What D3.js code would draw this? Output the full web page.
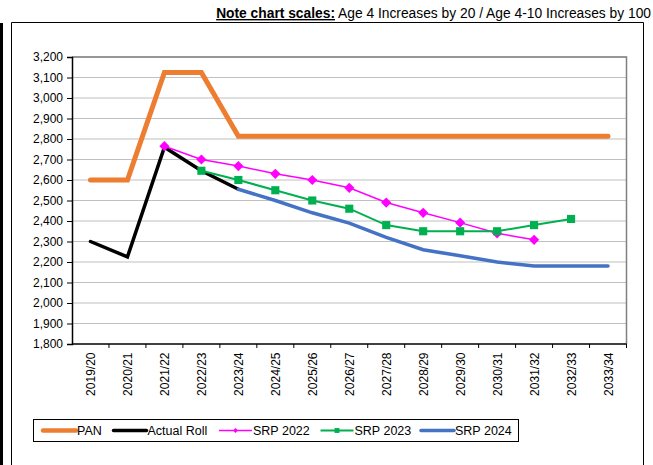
<!DOCTYPE html>
<html>
<head>
<meta charset="utf-8">
<script src="https://cdn.jsdelivr.net/npm/d3@7"></script>
<style>
  body { margin: 0; background: #fff; }
  svg { display: block; font-family: "Liberation Sans", Arial, sans-serif; }
</style>
</head>
<body>
<div id="target"></div>
<script>
let width = 653,
  height = 465;

let years = ["2019/20", "2020/21", "2021/22", "2022/23", "2023/24", "2024/25", "2025/26",
  "2026/27", "2027/28", "2028/29", "2029/30", "2030/31", "2031/32", "2032/33", "2033/34"];

// null = no value for that year
let pan = [2600, 2600, 3125, 3125, 2813, 2813, 2813, 2813, 2813, 2813, 2813, 2813, 2813, 2813, 2813];
let actualRoll = [2300, 2225, 2760, 2645, 2555, null, null, null, null, null, null, null, null, null, null];
let srp2022 = [null, null, 2765, 2700, 2668, 2630, 2600, 2562, 2490, 2440, 2392, 2340, 2308, null, null];
let srp2023 = [null, null, null, 2645, 2600, 2550, 2500, 2460, 2380, 2350, 2350, 2350, 2380, 2410, null];
let srp2024 = [null, null, null, null, 2555, 2500, 2440, 2390, 2320, 2260, 2230, 2200, 2180, 2180, 2180];

let yTicks = d3.range(1800, 3201, 100);

let series = [
  { name: "PAN", values: pan, color: "#ED7D31", width: 5, marker: null },
  { name: "Actual Roll", values: actualRoll, color: "#000000", width: 3.5, marker: null },
  { name: "SRP 2022", values: srp2022, color: "#FF00FF", width: 1.5, marker: "diamond" },
  { name: "SRP 2023", values: srp2023, color: "#00B050", width: 2, marker: "square" },
  { name: "SRP 2024", values: srp2024, color: "#4472C4", width: 3.5, marker: null }
];

let margin = { left: 72, right: 26.5, top: 57, bottom: 121 };

let x = d3.scaleBand()
  .domain(years)
  .range([margin.left, width - margin.right]);

let y = d3.scaleLinear()
  .domain([1800, 3200])
  .range([height - margin.bottom, margin.top]);

let svg = d3.select("#target").append("svg")
  .attr("width", width)
  .attr("height", height);

// outer frame
svg.append("rect").attr("x", 0).attr("y", 23).attr("width", 3).attr("height", height).attr("fill", "#000");
svg.append("path")
  .attr("d", "M11.5," + height + "V22.5H643.5V" + height)
  .attr("fill", "none").attr("stroke", "#000").attr("stroke-width", 1);

// title note
let note = svg.append("text")
  .attr("x", 651).attr("y", 18)
  .attr("text-anchor", "end")
  .style("font-size", "13.8px");
note.append("tspan").attr("font-weight", "bold").attr("text-decoration", "underline").text("Note chart scales:");
note.append("tspan").text(" Age 4 Increases by 20 / Age 4-10 Increases by 100");

// gridlines
svg.append("g").selectAll("line")
  .data(yTicks.slice(1))
  .enter().append("line")
  .attr("x1", margin.left).attr("x2", width - margin.right)
  .attr("y1", (d) => y(d)).attr("y2", (d) => y(d))
  .attr("stroke", "#c0c0c0").attr("stroke-width", 1.2);

// plot border top/right
svg.append("path")
  .attr("d", "M" + margin.left + "," + y(3200) + "H" + (width - margin.right) + "V" + y(1800))
  .attr("fill", "none").attr("stroke", "#808080").attr("stroke-width", 1.5);

// y axis
let yAxis = svg.append("g")
  .attr("transform", "translate(" + margin.left + ",0)")
  .call(d3.axisLeft(y).tickValues(yTicks).tickSize(5).tickPadding(4).tickFormat(d3.format(",")));
yAxis.select(".domain").attr("stroke", "#000").attr("stroke-width", 1.5);
yAxis.selectAll(".tick line").attr("stroke", "#000");
yAxis.selectAll("text").style("font-size", "12px").attr("fill", "#000").attr("font-family", "Liberation Sans, Arial, sans-serif");

// x axis
let bottom = y(1800);
svg.append("line")
  .attr("x1", margin.left).attr("x2", width - margin.right)
  .attr("y1", bottom).attr("y2", bottom)
  .attr("stroke", "#000").attr("stroke-width", 1.5);
svg.append("g").selectAll("line")
  .data(years)
  .enter().append("line")
  .attr("x1", (d) => x(d) + x.step())
  .attr("x2", (d) => x(d) + x.step())
  .attr("y1", bottom).attr("y2", bottom + 4)
  .attr("stroke", "#000");
svg.append("g").selectAll("text")
  .data(years)
  .enter().append("text")
  .attr("transform", (d) => "translate(" + (x(d) + x.bandwidth() / 2 + 4.5) + "," + (bottom + 8.5) + ") rotate(-90)")
  .attr("text-anchor", "end")
  .style("font-size", "12px")
  .text((d) => d);

// lines
let line = d3.line()
  .defined((d) => d != null)
  .x((d, i) => x(years[i]) + x.bandwidth() / 2)
  .y((d) => y(d));

let plot = svg.append("g");
series.forEach((s) => {
  plot.append("path")
    .datum(s.values)
    .attr("d", line)
    .attr("fill", "none")
    .attr("stroke", s.color)
    .attr("stroke-width", s.width)
    .attr("stroke-linecap", "round")
    .attr("stroke-linejoin", "miter");
});

// markers
series.filter((s) => s.marker).forEach((s) => {
  let pts = s.values.map((v, i) => ({ v: v, i: i })).filter((p) => p.v != null);
  let sym = d3.symbol().type(d3.symbolSquare).size(s.marker == "diamond" ? 52 : 66);
  plot.append("g").selectAll("path")
    .data(pts)
    .enter().append("path")
    .attr("d", sym)
    .attr("transform", (p) => "translate(" + (x(years[p.i]) + x.bandwidth() / 2) + "," + y(p.v) + ")" + (s.marker == "diamond" ? " rotate(45)" : ""))
    .attr("fill", s.color);
});

// legend
let legend = svg.append("g");
legend.append("rect")
  .attr("x", 33.5).attr("y", 419.5).attr("width", 485).attr("height", 22)
  .attr("fill", "#fff").attr("stroke", "#000").attr("stroke-width", 1);
let legendX = [43, 113.5, 219, 320.5, 421];
series.forEach((s, i) => {
  let lx = legendX[i];
  legend.append("line")
    .attr("x1", lx).attr("x2", lx + 33).attr("y1", 430.5).attr("y2", 430.5)
    .attr("stroke", s.color).attr("stroke-width", Math.min(s.width, 4.5))
    .attr("stroke-linecap", s.width > 3 ? "round" : "butt");
  if (s.marker) {
    legend.append("path")
      .attr("d", d3.symbol().type(d3.symbolSquare).size(s.marker == "diamond" ? 12 : 24))
      .attr("transform", "translate(" + (lx + 16.5) + ",430.5)" + (s.marker == "diamond" ? " rotate(45)" : ""))
      .attr("fill", s.color);
  }
  legend.append("text")
    .attr("x", lx + 34).attr("y", 435)
    .style("font-size", "12.5px")
    .text(s.name);
});
</script>
</body>
</html>
